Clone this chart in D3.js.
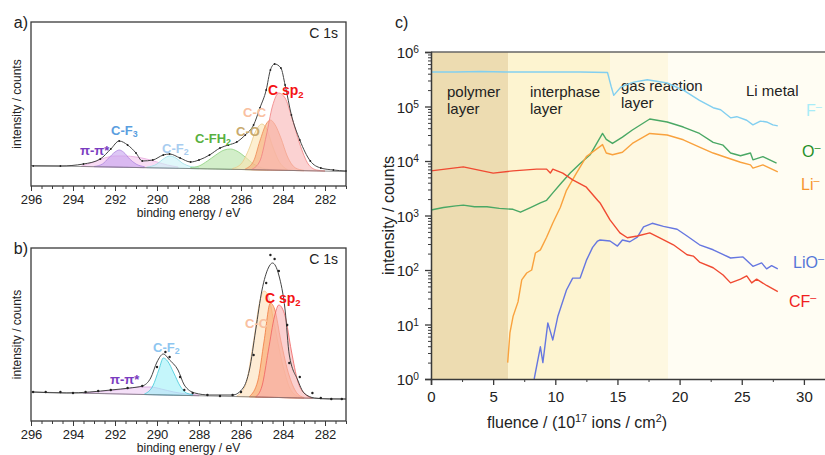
<!DOCTYPE html>
<html>
<head>
<meta charset="utf-8">
<script src="https://cdn.jsdelivr.net/npm/d3@7"></script>
<style>
  body { margin: 0; background: #fff; }
  text { font-family: "Liberation Sans", Arial, sans-serif; }
</style>
</head>
<body>
<svg id="fig" width="825" height="455"></svg>
<script>
// ---------- panel a/b : XPS C 1s (binding energy eV, intensity a.u.) ----------
const eTicks = [296, 294, 292, 290, 288, 286, 284, 282];

const aBaseline = [[296, 20.5], [281, 14.5]];
const aEnvelope = [[295.9, 20], [294.6, 20], [293.5, 22], [292.7, 27], [292.2, 37], [291.8, 45], [291.4, 41], [291.0, 33],
  [290.7, 25], [290.2, 26], [289.7, 31], [289.4, 32], [288.9, 28], [288.4, 24], [288.0, 26], [287.5, 31], [287.0, 38],
  [286.6, 41], [286.2, 44], [285.8, 51], [285.4, 61], [285.1, 78], [284.8, 96], [284.6, 116], [284.4, 122], [284.1, 118],
  [283.9, 101], [283.6, 71], [283.2, 46], [282.7, 25], [282.2, 18], [281.6, 16], [281.0, 15]];
const aPiPi = [[293.6, 19.8], [293.0, 24], [292.5, 28], [292.0, 30], [291.5, 30], [291.0, 29], [290.5, 27], [290.0, 24], [289.5, 21], [289.0, 19]];
const aCF3 = [[293.0, 19.5], [292.6, 22], [292.3, 28], [292.0, 34], [291.8, 36], [291.6, 34], [291.3, 27], [291.0, 22], [290.6, 19.3]];
const aCF2 = [[290.5, 18.8], [290.0, 22], [289.7, 27], [289.4, 30], [289.1, 28], [288.8, 23], [288.4, 19.5], [288.0, 18.3]];
const aCFH2 = [[288.4, 18.5], [288.0, 20], [287.6, 25], [287.2, 31], [286.8, 36], [286.5, 37], [286.2, 35], [285.8, 29], [285.4, 22], [285.0, 18], [284.7, 16.8]];
const aCO = [[286.4, 17.5], [286.0, 22], [285.6, 38], [285.3, 55], [285.0, 62], [284.8, 58], [284.5, 40], [284.2, 25], [283.8, 16.5]];
const aCC = [[285.8, 17], [285.4, 25], [285.1, 45], [284.8, 62], [284.6, 66], [284.4, 62], [284.1, 48], [283.8, 30], [283.4, 18], [283.0, 15.6]];
const aCsp2 = [[285.5, 16.5], [285.1, 25], [284.8, 50], [284.5, 80], [284.2, 93], [283.9, 88], [283.6, 70], [283.2, 42], [282.8, 22], [282.4, 16], [282.0, 15]];

const bBaseline = [[296, 29], [281, 22]];
const bEnvelope = [[295.9, 29], [294.3, 28], [293.2, 29], [292.2, 31], [291.3, 33], [290.7, 35], [290.3, 43], [290.0, 59],
  [289.7, 67], [289.4, 61], [289.0, 51], [288.7, 36], [288.2, 28], [287.5, 26], [286.4, 26], [285.9, 33], [285.6, 51],
  [285.3, 91], [285.0, 131], [284.7, 153], [284.5, 158], [284.2, 146], [283.9, 111], [283.7, 66], [283.3, 41], [283.0, 28],
  [282.5, 23], [281.8, 22], [281.0, 22]];
const bMeasured = [[295.9, 29], [295.3, 29], [294.6, 29], [294.0, 28], [293.4, 29], [292.8, 30], [292.2, 31], [291.4, 33],
  [290.7, 35], [290.0, 54], [289.6, 69], [289.4, 64], [288.9, 44], [288.7, 31], [288.3, 28], [287.6, 26], [287.0, 25],
  [286.4, 26], [286.0, 29], [285.4, 66], [284.8, 138], [284.6, 166], [284.4, 162], [284.2, 150], [283.8, 96],
  [283.7, 58], [283.2, 44], [282.6, 28], [282.2, 23], [281.7, 22], [281.2, 22]];
const bPiPi = [[293.5, 28], [292.5, 30], [291.5, 32], [290.8, 34], [290.3, 34], [289.8, 32], [289.2, 29], [288.6, 27], [288.0, 26]];
const bCF2 = [[290.6, 27], [290.2, 35], [289.9, 52], [289.7, 63], [289.5, 60], [289.2, 48], [288.9, 35], [288.6, 28], [288.3, 26.5]];
const bCC = [[286.2, 25], [285.8, 35], [285.4, 80], [285.1, 120], [284.9, 130], [284.7, 125], [284.4, 95], [284.0, 55], [283.6, 30], [283.2, 24]];
const bOrange = [[285.6, 24.5], [285.2, 40], [284.9, 80], [284.6, 118], [284.4, 112], [284.1, 80], [283.7, 45], [283.3, 27], [283.0, 23.5]];
const bCsp2 = [[285.3, 24], [285.0, 35], [284.7, 70], [284.4, 105], [284.2, 116], [283.9, 105], [283.6, 70], [283.3, 40], [283.0, 28], [282.6, 23]];

// ---------- panel c : ToF-SIMS depth profile ----------
const fTicks = [0, 5, 10, 15, 20, 25, 30];
const layerNames = [["polymer", "layer"], ["interphase", "layer"], ["gas reaction", "layer"], ["Li metal"]];
const layerBounds = [0, 6.2, 14.4, 19.1, 32];
const layerColors = ["#eddcb1", "#fdf4d0", "#fef8e1", "#fffdf3"];

const fluF = [0, 2, 4, 6, 8, 10, 12, 14.2, 14.5, 14.7, 15.3, 16.3, 17.4, 19.0, 20.3, 21.6, 22.7, 23.3, 24.1, 24.6, 25.4, 25.9, 26.5, 27.0, 27.5, 27.9];
const cntF = [4.3e5, 4.3e5, 4.4e5, 4.3e5, 4.3e5, 4.3e5, 4.3e5, 4.2e5, 2.3e5, 1.6e5, 2.3e5, 2.8e5, 3.1e5, 2.7e5, 2.0e5, 1.3e5, 9.5e4, 8.7e4, 6.2e4, 6.5e4, 5.6e4, 4.6e4, 5.4e4, 5.2e4, 4.6e4, 4.4e4];

const fluO = [0, 1, 2, 2.6, 3.5, 4.5, 5.5, 6.6, 7.2, 8.0, 8.8, 9.3, 9.8, 10.5, 11.2, 12.0, 12.8, 13.8, 14.1, 14.6, 15.4, 16.2, 17.6, 19.0, 20.3, 21.6, 22.7, 23.5, 24.1, 24.9, 25.7, 25.9, 26.7, 27.8];
const cntO = [1.26e3, 1.4e3, 1.5e3, 1.55e3, 1.45e3, 1.45e3, 1.35e3, 1.3e3, 1.15e3, 1.4e3, 1.7e3, 1.9e3, 2.6e3, 4.0e3, 6.0e3, 9.0e3, 1.3e4, 3.2e4, 2.5e4, 2.1e4, 2.75e4, 3.7e4, 5.9e4, 5.2e4, 4.2e4, 3.2e4, 2.2e4, 1.95e4, 1.4e4, 1.25e4, 1.4e4, 1.05e4, 1.2e4, 9.1e3];

const fluLi = [6.17, 6.35, 6.6, 7.0, 7.3, 7.7, 8.1, 8.4, 8.8, 9.3, 9.8, 10.4, 10.9, 11.7, 12.5, 13.8, 14.1, 14.6, 15.4, 16.2, 17.6, 19.0, 20.3, 21.6, 22.7, 23.7, 24.9, 25.7, 25.9, 26.7, 27.9];
const cntLi = [2, 7, 14, 26, 66, 88, 100, 205, 234, 400, 730, 1.4e3, 2.9e3, 6.0e3, 1.2e4, 2.0e4, 1.4e4, 1.3e4, 1.45e4, 2.1e4, 3.2e4, 3.0e4, 2.45e4, 1.8e4, 1.4e4, 1.17e4, 9.5e3, 8.5e3, 7.4e3, 8.5e3, 6.3e3];

const fluCF = [0, 2.6, 5.0, 6.6, 8.5, 9.3, 9.6, 9.8, 10.6, 11.4, 12.5, 13.4, 13.6, 14.4, 15.2, 15.8, 16.6, 17.6, 18.4, 19.5, 20.6, 21.1, 21.6, 22.7, 23.5, 24.1, 24.9, 25.4, 25.8, 26.2, 27.0, 27.9];
const cntCF = [6.6e3, 7.8e3, 6.0e3, 6.6e3, 7.1e3, 7.1e3, 6.0e3, 7.1e3, 6.0e3, 4.5e3, 3.3e3, 1.9e3, 1.7e3, 830, 480, 390, 420, 480, 390, 290, 190, 180, 140, 110, 81, 58, 68, 78, 58, 68, 52, 40];

const fluLiO = [8.3, 8.8, 9.0, 9.4, 9.8, 10.2, 10.9, 11.4, 12.0, 12.5, 13.0, 13.4, 13.6, 14.4, 15.0, 15.4, 16.0, 16.6, 17.1, 17.8, 18.7, 19.8, 20.6, 21.6, 22.7, 24.1, 25.1, 25.9, 26.6, 27.0, 27.4, 27.9];
const cntLiO = [1, 3.9, 2, 10.7, 5.2, 14, 43, 71, 71, 150, 260, 340, 355, 340, 275, 355, 330, 400, 620, 720, 630, 560, 420, 290, 235, 166, 174, 117, 135, 105, 120, 105];

const seriesNames = ["F", "O", "Li", "LiO", "CF"];
const seriesColors = ["#82cff0", "#4aa865", "#f9a23e", "#6677e0", "#f04a32"];
const labelColors = ["#a8ecf8", "#1f8f2a", "#f7962e", "#5577d8", "#f01e1e"];

// ---------- drawing ----------
const svg = d3.select("#fig");
const frameColor = "#3a3a3a";

function addSub(sel, main, sub, mode) {
  sel.append("tspan").text(main);
  sel.append("tspan").text(sub)
    .attr("font-size", "0.68em")
    .attr("baseline-shift", mode === "sup" ? "55%" : "-25%");
}

function drawXps(opts) {
  const g = svg.append("g");
  const x = d3.scaleLinear().domain([296, 281]).range([opts.left, opts.right]);
  const y = d3.scaleLinear().domain([0, opts.bottom - opts.top]).range([opts.bottom, opts.top]);
  const base = d3.scaleLinear().domain(opts.baseline.map(d => d[0])).range(opts.baseline.map(d => d[1]));

  const area = d3.area()
    .x(d => x(d[0]))
    .y0(d => y(base(d[0])))
    .y1(d => y(Math.max(d[1], base(d[0]))))
    .curve(d3.curveMonotoneX);

  opts.components.forEach(c => {
    g.append("path")
      .datum(c.data)
      .attr("d", area)
      .attr("fill", c.fill)
      .attr("fill-opacity", c.opacity || 0.6)
      .attr("stroke", c.stroke)
      .attr("stroke-width", 0.8);
  });

  // background line
  g.append("path")
    .datum(opts.baseline)
    .attr("d", d3.line().x(d => x(d[0])).y(d => y(d[1])))
    .attr("fill", "none")
    .attr("stroke", "#777")
    .attr("stroke-width", 0.8);

  // envelope
  g.append("path")
    .datum(opts.envelope)
    .attr("d", d3.line().x(d => x(d[0])).y(d => y(d[1])).curve(d3.curveMonotoneX))
    .attr("fill", "none")
    .attr("stroke", "#444")
    .attr("stroke-width", 1);

  g.selectAll("circle.pt")
    .data(opts.measured)
    .enter()
    .append("circle")
    .attr("class", "pt")
    .attr("cx", d => x(d[0]))
    .attr("cy", d => y(d[1]))
    .attr("r", opts.dotR)
    .attr("fill", "#222");

  // frame
  g.append("rect")
    .attr("x", opts.left).attr("y", opts.top)
    .attr("width", opts.right - opts.left).attr("height", opts.bottom - opts.top)
    .attr("fill", "none").attr("stroke", frameColor).attr("stroke-width", 1.3);

  const minor = d3.range(281, 296.01, 0.5);
  g.append("g")
    .attr("transform", `translate(0,${opts.bottom})`)
    .call(d3.axisBottom(x).tickValues(minor).tickSize(3).tickFormat(""))
    .call(a => a.select(".domain").remove())
    .call(a => a.selectAll("line").attr("stroke", frameColor));
  g.append("g")
    .attr("transform", `translate(0,${opts.bottom})`)
    .call(d3.axisBottom(x).tickValues(eTicks).tickSize(5).tickPadding(4).tickFormat(d3.format("d")))
    .call(a => a.select(".domain").remove())
    .call(a => a.selectAll("line").attr("stroke", frameColor))
    .call(a => a.selectAll("text").attr("font-size", 13).attr("fill", "#222")
      .attr("font-family", "Liberation Sans, Arial, sans-serif"));

  g.append("text")
    .attr("x", (opts.left + opts.right) / 2).attr("y", opts.bottom + 31)
    .attr("text-anchor", "middle").attr("font-size", 12).attr("fill", "#222")
    .text("binding energy / eV");
  g.append("text")
    .attr("transform", `translate(${opts.left - 10},${(opts.top + opts.bottom) / 2}) rotate(-90)`)
    .attr("text-anchor", "middle").attr("font-size", 12).attr("fill", "#222")
    .text("intensity / counts");
  g.append("text")
    .attr("x", opts.left - 3).attr("y", opts.top + 6)
    .attr("text-anchor", "end").attr("font-size", 16).attr("fill", "#222")
    .text(opts.tag);
  g.append("text")
    .attr("x", opts.right - 8).attr("y", opts.top + 16)
    .attr("text-anchor", "end").attr("font-size", 14).attr("fill", "#222")
    .text("C 1s");

  opts.labels.forEach(l => {
    const t = g.append("text")
      .attr("x", l.x).attr("y", l.y)
      .attr("font-size", l.size || 13)
      .attr("font-weight", l.bold ? "bold" : "normal")
      .attr("fill", l.color);
    if (l.sub) addSub(t, l.text, l.sub, l.mode || "sub");
    else t.text(l.text);
  });
}

drawXps({
  tag: "a)", left: 31, right: 346, top: 22, bottom: 186, dotR: 0.9,
  baseline: aBaseline, envelope: aEnvelope, measured: aEnvelope,
  components: [
    { data: aPiPi, fill: "#f3c4ec", stroke: "#e8a8dd" },
    { data: aCF3, fill: "#c7a2ee", stroke: "#b088e0" },
    { data: aCF2, fill: "#c9f1f7", stroke: "#9fdfe8" },
    { data: aCFH2, fill: "#b4e2a5", stroke: "#8ccf7c" },
    { data: aCO, fill: "#fbe4b0", stroke: "#e9cc8a" },
    { data: aCC, fill: "#f6a878", stroke: "#ee8a55" },
    { data: aCsp2, fill: "#f8b4b4", stroke: "#f08080" }
  ],
  labels: [
    { x: 268, y: 95, text: "C sp", sub: "2", color: "#f41414", bold: true, size: 14 },
    { x: 243, y: 117, text: "C-C", color: "#f9c0a0", bold: true },
    { x: 236, y: 136, text: "C-O", color: "#c8aa6e", bold: true },
    { x: 195, y: 143, text: "C-FH", sub: "2", color: "#58b040", bold: true, size: 13 },
    { x: 162, y: 153, text: "C-F", sub: "2", color: "#a8cdf0", bold: true },
    { x: 111, y: 135, text: "C-F", sub: "3", color: "#5a9ee0", bold: true },
    { x: 80, y: 155, text: "π-π*", color: "#7a3cc0", bold: true }
  ]
});

drawXps({
  tag: "b)", left: 31, right: 346, top: 248, bottom: 421, dotR: 1.2,
  baseline: bBaseline, envelope: bEnvelope, measured: bMeasured,
  components: [
    { data: bPiPi, fill: "#eccaf2", stroke: "#d7a0e0" },
    { data: bCF2, fill: "#9ef0f8", stroke: "#3fc8d8" },
    { data: bCC, fill: "#fde0b8", stroke: "#f5c890" },
    { data: bOrange, fill: "#f9a466", stroke: "#f07a40" },
    { data: bCsp2, fill: "#f8b0b0", stroke: "#f06060" }
  ],
  labels: [
    { x: 265, y: 303, text: "C sp", sub: "2", color: "#f41414", bold: true, size: 14 },
    { x: 245, y: 328, text: "C-C", color: "#f9c0a0", bold: true },
    { x: 153, y: 352, text: "C-F", sub: "2", color: "#8ec6f0", bold: true },
    { x: 110, y: 384, text: "π-π*", color: "#7a3cc0", bold: true }
  ]
});

// ---------- panel c ----------
const cL = 431, cR = 826, cT = 52, cB = 379;
const fx = d3.scaleLinear().domain([0, (cR - cL) / 12.43]).range([cL, cR]);
const fy = d3.scaleLog().domain([1, 1e6]).range([cB, cT]);
const gc = svg.append("g");

gc.selectAll("rect.layer")
  .data(layerColors)
  .enter()
  .append("rect")
  .attr("class", "layer")
  .attr("x", (d, i) => fx(layerBounds[i]))
  .attr("y", cT)
  .attr("width", (d, i) => Math.min(fx(layerBounds[i + 1]), cR) - fx(layerBounds[i]))
  .attr("height", cB - cT)
  .attr("fill", d => d);

const layerLabelPos = [[447, 97], [530, 97], [621, 91], [746, 96]];
layerNames.forEach((lines, i) => {
  const t = gc.append("text").attr("font-size", 15).attr("fill", "#222");
  lines.forEach((s, k) => {
    t.append("tspan").attr("x", layerLabelPos[i][0]).attr("y", layerLabelPos[i][1] + k * 17).text(s);
  });
});

const seriesFlu = [fluF, fluO, fluLi, fluLiO, fluCF];
const seriesCnt = [cntF, cntO, cntLi, cntLiO, cntCF];
const lineGen = d3.line().x(d => fx(d[0])).y(d => fy(d[1]));
seriesNames.forEach((name, i) => {
  const pts = seriesFlu[i].map((f, k) => [f, seriesCnt[i][k]]);
  gc.append("path")
    .datum(pts)
    .attr("d", lineGen)
    .attr("fill", "none")
    .attr("stroke", seriesColors[i])
    .attr("stroke-width", 1.4)
    .attr("stroke-linejoin", "round");
});

// series labels
const seriesLabelPos = [[806, 116], [802, 157], [801, 190], [793, 268], [789, 307]];
seriesNames.forEach((name, i) => {
  const t = gc.append("text")
    .attr("x", seriesLabelPos[i][0]).attr("y", seriesLabelPos[i][1])
    .attr("font-size", 16).attr("fill", labelColors[i]);
  addSub(t, name, "\u2013", "sup");
});

// axes
gc.append("line").attr("x1", cL).attr("x2", cR).attr("y1", cT).attr("y2", cT)
  .attr("stroke", "#666").attr("stroke-width", 1.5);

const minorY = [];
for (let e = 0; e < 6; e++) for (let m = 2; m <= 9; m++) minorY.push(m * Math.pow(10, e));
gc.append("g")
  .attr("transform", `translate(${cL},0)`)
  .call(d3.axisLeft(fy).tickValues(minorY).tickSize(3).tickFormat(""))
  .call(a => a.select(".domain").remove())
  .call(a => a.selectAll("line").attr("stroke", frameColor));
const yAxis = gc.append("g")
  .attr("transform", `translate(${cL},0)`)
  .call(d3.axisLeft(fy).tickValues([1, 10, 100, 1e3, 1e4, 1e5, 1e6]).tickSize(6).tickFormat(""))
  .call(a => a.select(".domain").attr("stroke", frameColor).attr("stroke-width", 1.5))
  .call(a => a.selectAll("line").attr("stroke", frameColor).attr("stroke-width", 1.3));
yAxis.selectAll(".tick").append("text")
  .attr("x", -12).attr("dy", "0.38em")
  .attr("text-anchor", "end").attr("font-size", 15).attr("fill", "#222")
  .each(function (d) {
    addSub(d3.select(this), "10", String(Math.round(Math.log10(d))), "sup");
  });

gc.append("g")
  .attr("transform", `translate(0,${cB})`)
  .call(d3.axisBottom(fx).tickValues(d3.range(2.5, 31, 5)).tickSize(3).tickFormat(""))
  .call(a => a.select(".domain").remove())
  .call(a => a.selectAll("line").attr("stroke", frameColor));
gc.append("g")
  .attr("transform", `translate(0,${cB})`)
  .call(d3.axisBottom(fx).tickValues(fTicks).tickSize(6).tickPadding(6))
  .call(a => a.select(".domain").attr("stroke", frameColor).attr("stroke-width", 1.5))
  .call(a => a.selectAll("line").attr("stroke", frameColor).attr("stroke-width", 1.3))
  .call(a => a.selectAll("text").attr("font-size", 15).attr("fill", "#222")
    .attr("font-family", "Liberation Sans, Arial, sans-serif"));

const xl = gc.append("text").attr("x", 577).attr("y", 428).attr("text-anchor", "middle")
  .attr("font-size", 16).attr("fill", "#222");
xl.append("tspan").text("fluence / (10");
xl.append("tspan").text("17").attr("font-size", "0.68em").attr("baseline-shift", "55%");
xl.append("tspan").text(" ions / cm");
xl.append("tspan").text("2").attr("font-size", "0.68em").attr("baseline-shift", "55%");
xl.append("tspan").text(")");

gc.append("text")
  .attr("transform", `translate(394,${(cT + cB) / 2}) rotate(-90)`)
  .attr("text-anchor", "middle").attr("font-size", 16).attr("fill", "#222")
  .text("intensity / counts");
gc.append("text").attr("x", 395).attr("y", 28).attr("font-size", 16).attr("fill", "#222").text("c)");
</script>
</body>
</html>
